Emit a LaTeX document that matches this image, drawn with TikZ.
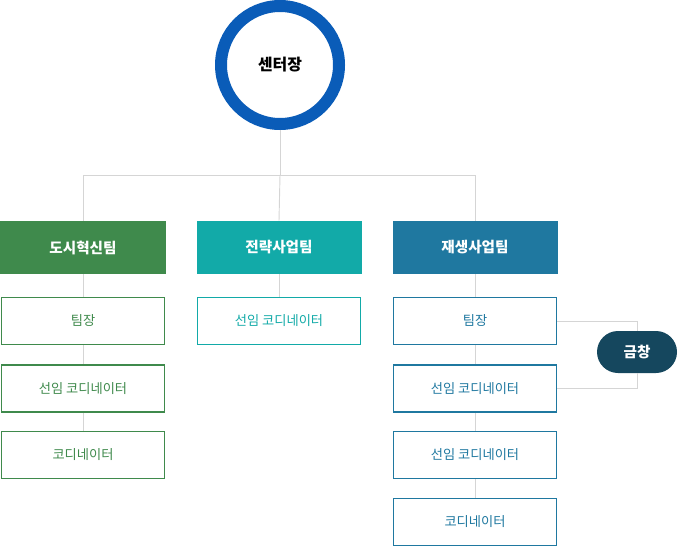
\documentclass[tikz,border=0pt]{standalone}
\usepackage{fontspec}
\setmainfont{Noto Sans CJK KR}
\definecolor{cgreen}{HTML}{3F8A4C}
\definecolor{cteal}{HTML}{12AAA8}
\definecolor{cblue}{HTML}{1F78A0}
\definecolor{cnavy}{HTML}{15475E}
\definecolor{cring}{HTML}{0A5CB8}
\definecolor{cline}{HTML}{D5D5D5}
\tikzset{
  head/.style={fill=#1, text=white, minimum width=165\px, minimum height=53\px, inner sep=0pt, font=\bfseries\fontsize{11}{13}\selectfont},
  member/.style={draw=#1, line width=1.2pt, fill=white, text=#1, minimum width=163\px, minimum height=47\px, inner sep=0pt, font=\fontsize{10}{12}\selectfont},
  link/.style={draw=cline, line width=0.7pt}
}
\newlength{\px}
\setlength{\px}{0.0265cm}
\begin{document}
\begin{tikzpicture}[x=\px, y=-\px]
\useasboundingbox (0,0) rectangle (678,547);
% top
\node[circle, draw=cring, line width=12\px, fill=white, minimum size=118\px, font=\bfseries\fontsize{12}{14}\selectfont] (boss) at (280,65) {센터장};
\coordinate (hub) at (280,175);
\coordinate (hubl) at (83,175);
\coordinate (hubr) at (475,175);

% headers
\node[head=cgreen] (h1) at (83,247.5) {도시혁신팀};
\node[head=cteal] (h2) at (279,247.5) {전략사업팀};
\node[head=cblue] (h3) at (475,247.5) {재생사업팀};

% members
\node[member=cgreen] (a1) at (83,321) {팀장};
\node[member=cgreen] (a2) at (83,388.5) {선임 코디네이터};
\node[member=cgreen] (a3) at (83,455) {코디네이터};
\node[member=cteal] (b1) at (279,321) {선임 코디네이터};
\node[member=cblue] (c1) at (475,321) {팀장};
\node[member=cblue] (c2) at (475,388.5) {선임 코디네이터};
\node[member=cblue] (c3) at (475,455) {선임 코디네이터};
\node[member=cblue] (c4) at (475,522) {코디네이터};

\node[rounded corners=21\px, fill=cnavy, text=white, minimum width=80\px, minimum height=42\px, font=\bfseries\fontsize{11}{13}\selectfont] (gc) at (637,352) {금창};

% connectors
\begin{scope}[on background layer/.style={}]
\draw[link] (boss.south) -- (hub);
\draw[link] (hubl) -- (hubr);
\draw[link] (hubl) -- (h1.north);
\draw[link] (hub) -- (h2.north);
\draw[link] (hubr) -- (h3.north);
\draw[link] (h1) -- (a1) (a1) -- (a2) (a2) -- (a3);
\draw[link] (h2) -- (b1);
\draw[link] (h3) -- (c1) (c1) -- (c2) (c2) -- (c3) (c3) -- (c4);
\draw[link] (c1.east) -| (gc.north);
\draw[link] (c2.east) -| (gc.south);
\end{scope}
\end{tikzpicture}
\end{document}
